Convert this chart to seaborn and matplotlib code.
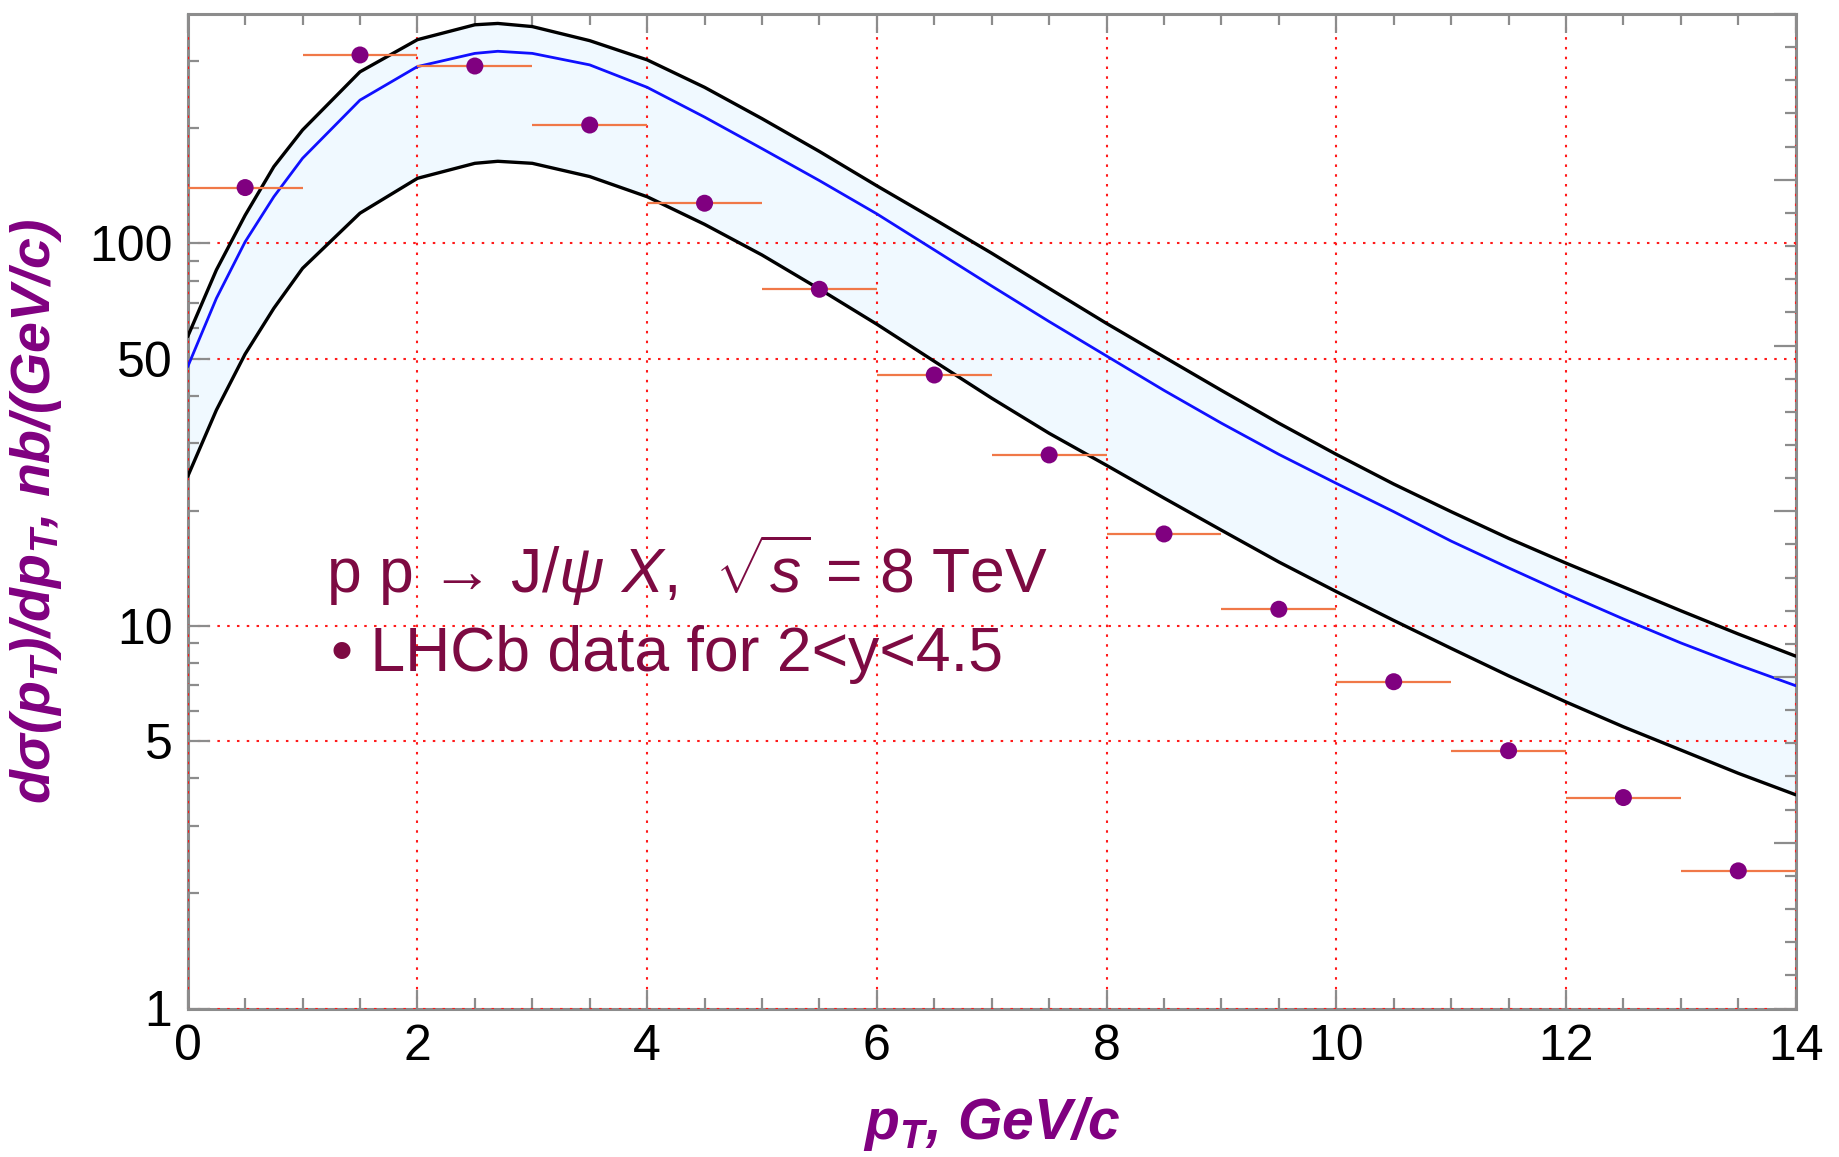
import numpy as np
import pandas as pd
import matplotlib
matplotlib.use("Agg")
import matplotlib.pyplot as plt
import seaborn as sns
from matplotlib.ticker import FixedLocator, FixedFormatter, MultipleLocator, NullFormatter

# ---------------- data ----------------
pt_curve = [0, 0.25, 0.5, 0.75, 1, 1.5, 2, 2.5, 2.7, 3, 3.5, 4, 4.5, 5, 5.5, 6, 6.5, 7, 7.5,
            8, 8.5, 9, 9.5, 10, 10.5, 11, 11.5, 12, 12.5, 13, 13.5, 14]
upper = [57.1, 85.3, 118.5, 158.8, 198, 281, 341, 373, 376, 369, 339, 302, 256, 212, 174, 141.5, 115.7, 94.3, 76.3,
         61.8, 50.5, 41.3, 33.9, 28.1, 23.5, 19.9, 16.95, 14.6, 12.65, 10.96, 9.53, 8.34]
central = [47.6, 71.9, 101, 132.5, 167, 237, 290, 314, 318, 314, 293, 256, 214, 177, 146, 119.5, 96.2, 77.4, 62.5,
           50.8, 41.3, 33.9, 28.1, 23.6, 19.9, 16.67, 14.19, 12.13, 10.43, 9.03, 7.91, 6.98]
lower = [24.6, 36.7, 51.4, 67.7, 86.1, 120, 148, 162, 164, 162, 149.6, 132.5, 112.2, 93.3, 76.0, 61.5, 49.2, 39.4, 31.9,
         26.3, 21.6, 17.8, 14.7, 12.3, 10.34, 8.74, 7.41, 6.33, 5.45, 4.74, 4.12, 3.62]

pt_data = [0.5, 1.5, 2.5, 3.5, 4.5, 5.5, 6.5, 7.5, 8.5, 9.5, 10.5, 11.5, 12.5, 13.5]
xs_data = [140, 311, 291, 204, 127.4, 75.9, 45.3, 28.0, 17.4, 11.06, 7.15, 4.72, 3.56, 2.29]
pt_halfwidth = [0.5] * len(pt_data)

y_ticks = [1, 5, 10, 50, 100]
y_ticklabels = ["1", "5", "10", "50", "100"]
x_ticks = [0, 2, 4, 6, 8, 10, 12, 14]

curves = pd.DataFrame({"pt": pt_curve, "upper": upper, "central": central, "lower": lower})
data = pd.DataFrame({"pt": pt_data, "xs": xs_data, "dx": pt_halfwidth})

# ---------------- style ----------------
sns.set_theme(style="white")
plt.rcParams["font.family"] = ["Liberation Sans", "DejaVu Sans"]
plt.rcParams["mathtext.fontset"] = "custom"
plt.rcParams["mathtext.rm"] = "Liberation Sans"
plt.rcParams["mathtext.it"] = "Liberation Sans:italic"
plt.rcParams["mathtext.bf"] = "Liberation Sans:bold"
try:
    plt.rcParams["mathtext.bfit"] = "Liberation Sans:italic:bold"
except KeyError:
    pass

W, H = 1840, 1157
fig = plt.figure(figsize=(W / 100, H / 100), dpi=100)
left_px, right_px, top_px, bottom_px = 187.7, 1795.7, 14.0, 1008.5
ax = fig.add_axes([left_px / W, 1 - bottom_px / H, (right_px - left_px) / W, (bottom_px - top_px) / H])

frame_col = "#8c8c8c"
purple = "#800080"
text_col = "#7d0a42"

# band
ax.fill_between(curves["pt"], curves["lower"], curves["upper"], color="#f0f9ff", lw=0, zorder=1)
sns.lineplot(data=curves, x="pt", y="upper", ax=ax, color="black", lw=2.4, sort=False, estimator=None, zorder=3)
sns.lineplot(data=curves, x="pt", y="lower", ax=ax, color="black", lw=2.4, sort=False, estimator=None, zorder=3)
sns.lineplot(data=curves, x="pt", y="central", ax=ax, color="#1010ff", lw=2.0, sort=False, estimator=None, zorder=4)

# data with horizontal bins
ax.errorbar(data["pt"], data["xs"], xerr=data["dx"], fmt="none", ecolor="#f07848", elinewidth=1.6, capsize=0, zorder=5)
sns.scatterplot(data=data, x="pt", y="xs", ax=ax, color=purple, s=150, edgecolor="none", zorder=6)

ax.set_yscale("log")
ax.set_xlim(0, 14)
ax.set_ylim(1, 398)

# ticks
ax.yaxis.set_major_locator(FixedLocator(y_ticks))
ax.yaxis.set_major_formatter(FixedFormatter(y_ticklabels))
ax.yaxis.set_minor_locator(FixedLocator([2, 3, 4, 6, 7, 8, 9, 20, 30, 40, 60, 70, 80, 90, 200, 300]))
ax.yaxis.set_minor_formatter(NullFormatter())
ax.xaxis.set_major_locator(FixedLocator(x_ticks))
ax.xaxis.set_minor_locator(MultipleLocator(0.5))

ax.tick_params(axis="both", which="both", direction="in", color=frame_col, width=1.6, labelsize=36, labelcolor="black")
ax.tick_params(axis="y", which="major", length=16, pad=11, left=True, right=False)
ax.tick_params(axis="y", which="minor", length=8, left=True, right=False)
ax.tick_params(axis="x", which="major", length=14, pad=11, bottom=True, top=True)
ax.tick_params(axis="x", which="minor", length=8, bottom=True, top=True)

for sp in ax.spines.values():
    sp.set_color(frame_col)
    sp.set_linewidth(2.2)

# grid
ax.grid(True, which="major", axis="both", color="#ff1a1a", lw=1.5, linestyle=(0, (1.2, 3.5)))
ax.set_axisbelow(False)
for gl in ax.get_xgridlines() + ax.get_ygridlines():
    gl.set_zorder(2)

# right frame ticks (uniform)
axr = ax.twinx()
axr.set_ylim(0, 6)
axr.yaxis.set_major_locator(MultipleLocator(1))
axr.yaxis.set_minor_locator(MultipleLocator(0.2))
axr.yaxis.set_major_formatter(NullFormatter())
axr.tick_params(axis="y", which="major", direction="in", length=16, width=1.6, color=frame_col, right=True)
axr.tick_params(axis="y", which="minor", direction="in", length=8, width=1.6, color=frame_col, right=True)
axr.grid(False)
for sp in axr.spines.values():
    sp.set_visible(False)

# labels
ax.set_xlabel(r"$\mathbfit{p}_{\mathbfit{T}}$" + ", GeV/c", fontsize=41, color=purple,
              fontweight="bold", style="italic", labelpad=18)
ax.set_ylabel(r"d$\mathbfit{\sigma}$(p$_{\mathbfit{T}}$)/dp$_{\mathbfit{T}}$, nb/(GeV/c)", fontsize=40, color=purple,
              fontweight="bold", style="italic")
ax.yaxis.set_label_coords(-0.077, 0.5)

ax.text(0.086, 0.4178, r"p p → J/$\mathit{\psi}$ $\mathit{X}$,  $\sqrt{\mathit{s}}$ = 8 TeV",
        transform=ax.transAxes, fontsize=45, color=text_col, va="baseline", ha="left", zorder=7)
ax.text(0.089, 0.339, "• LHCb data for 2<y<4.5",
        transform=ax.transAxes, fontsize=45, color=text_col, va="baseline", ha="left", zorder=7)

fig.savefig("out.png", dpi=100)
